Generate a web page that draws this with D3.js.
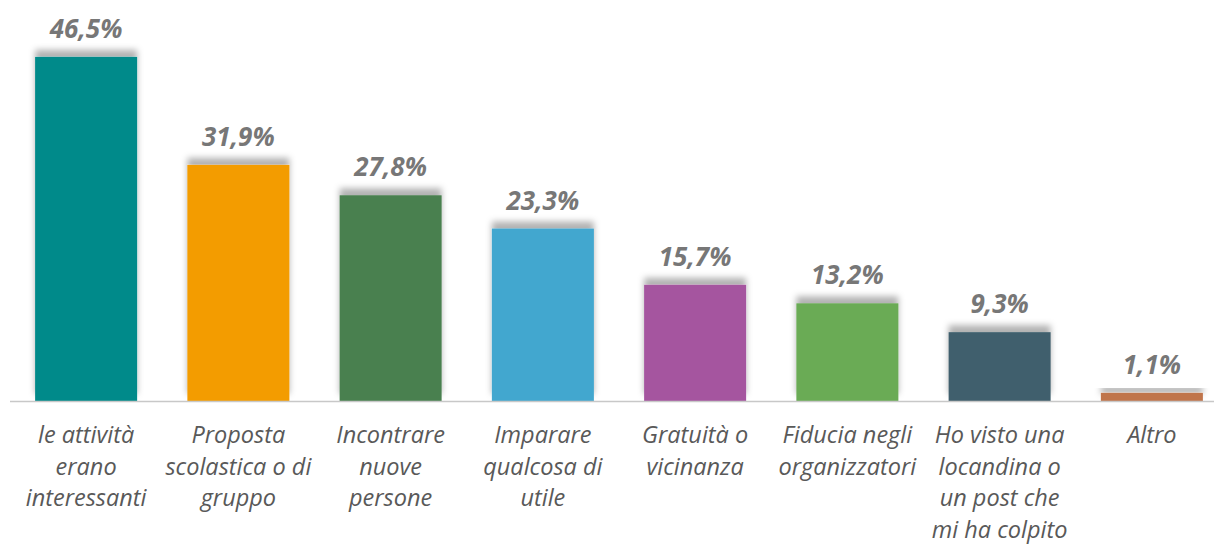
<!DOCTYPE html>
<html>
<head>
<meta charset="utf-8">
<script src="https://cdn.jsdelivr.net/npm/d3@7"></script>
<style>
  body { margin: 0; background: #fff; }
  svg { display: block; }
</style>
</head>
<body>
<svg id="chart" width="1214" height="545"></svg>
<script>
// dati del grafico
const categories = [
    "le attività|erano|interessanti",
    "Proposta|scolastica o di|gruppo",
    "Incontrare|nuove|persone",
    "Imparare|qualcosa di|utile",
    "Gratuità o|vicinanza",
    "Fiducia negli|organizzatori",
    "Ho visto una|locandina o|un post che|mi ha colpito",
    "Altro"
];
const values = [46.5, 31.9, 27.8, 23.3, 15.7, 13.2, 9.3, 1.1];
const colors = ["#008a8a", "#f39c00", "#4a8050", "#42a7cf", "#a5559f", "#6aab55", "#3f5f6d", "#c0744c"];

const width = 1214, height = 545;
const baseY = 401;

const svg = d3.select("#chart");

// ombra sopra le barre
const defs = svg.append("defs");
const filter = defs.append("filter")
    .attr("id", "topShadow")
    .attr("x", "-20%").attr("y", "-50%")
    .attr("width", "140%").attr("height", "200%");
filter.append("feDropShadow")
    .attr("dx", 0)
    .attr("dy", -7)
    .attr("stdDeviation", 3)
    .attr("flood-color", "#000")
    .attr("flood-opacity", 0.3);

const x = d3.scaleBand()
    .domain(categories)
    .range([10, 1228])
    .paddingInner(0.33)
    .paddingOuter(0.165);

const y = d3.scaleLinear()
    .domain([0, 50])
    .range([baseY, baseY - 370]);

const data = categories.map((c, i) => ({ cat: c, value: values[i], color: colors[i] }));

// barre
svg.append("g")
    .selectAll("rect")
    .data(data)
    .join("rect")
    .attr("x", d => x(d.cat))
    .attr("y", d => y(d.value))
    .attr("width", x.bandwidth())
    .attr("height", d => y(0) - y(d.value))
    .attr("fill", d => d.color)
    .attr("filter", "url(#topShadow)");

// asse
svg.append("line")
    .attr("x1", 10)
    .attr("x2", width)
    .attr("y1", baseY + 0.5)
    .attr("y2", baseY + 0.5)
    .attr("stroke", "#c8c8c8")
    .attr("stroke-width", 1.5);

// etichette valori
svg.append("g")
    .selectAll("text")
    .data(data)
    .join("text")
    .attr("x", d => x(d.cat) + x.bandwidth() / 2)
    .attr("y", d => y(d.value) - 19)
    .attr("text-anchor", "middle")
    .style("font-family", "'Open Sans', sans-serif")
    .style("font-size", "26px")
    .style("font-weight", "bold")
    .style("font-style", "italic")
    .style("fill", "#777777")
    .text(d => d.value.toFixed(1).replace(".", ",") + "%");

// etichette categorie
const catLabels = svg.append("g")
    .selectAll("text")
    .data(data)
    .join("text")
    .attr("text-anchor", "middle")
    .style("font-family", "'Open Sans', sans-serif")
    .style("font-size", "23.5px")
    .style("font-style", "italic")
    .style("fill", "#595959");

catLabels.each(function (d) {
    const lines = d.cat.split("|");
    const cx = x(d.cat) + x.bandwidth() / 2;
    d3.select(this).selectAll("tspan")
        .data(lines)
        .join("tspan")
        .attr("x", cx)
        .attr("y", (l, i) => 443 + i * 31.7)
        .text(l => l);
});
</script>
</body>
</html>
